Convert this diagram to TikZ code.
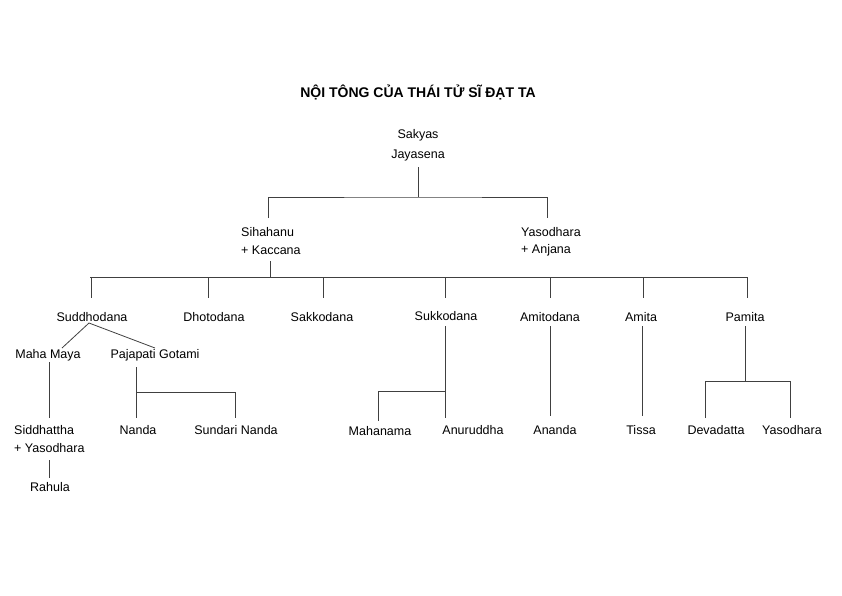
\documentclass[tikz,border=0pt]{standalone}
\usepackage{fontspec}
\setmainfont{Liberation Sans}
\begin{document}
\begin{tikzpicture}[x=1pt,y=-1pt,
  lbl/.style={inner sep=0pt,font=\fontsize{12.5}{15}\selectfont},
  ln/.style={draw=black!75,line width=0.8pt}]
\useasboundingbox (0,0) rectangle (842,595);
\node[inner sep=0pt,font=\bfseries\fontsize{14}{16}\selectfont] (title) at (418,92) {NỘI TÔNG CỦA THÁI TỬ SĨ ĐẠT TA};
\node[lbl] (sak) at (418,135) {Sakyas};
\node[lbl] (jay) at (418,155) {Jayasena};
\node[lbl,anchor=west] (sih) at (241,232) {Sihahanu};
\node[lbl,anchor=west] (kac) at (241,250) {+ Kaccana};
\node[lbl,anchor=west] (yas) at (521,232) {Yasodhara};
\node[lbl,anchor=west] (anj) at (521,250) {+ Anjana};
\node[lbl] (sud) at (92,317) {Suddhodana};
\node[lbl] (dho) at (214,317) {Dhotodana};
\node[lbl] (sakk) at (322,317) {Sakkodana};
\node[lbl] (suk) at (446,316) {Sukkodana};
\node[lbl] (ami) at (550,317) {Amitodana};
\node[lbl] (amt) at (641,317) {Amita};
\node[lbl] (pam) at (745,317) {Pamita};
\node[lbl] (mm) at (48,355) {Maha Maya};
\node[lbl] (pg) at (155,355) {Pajapati Gotami};
\node[lbl,anchor=west] (sid) at (14,430) {Siddhattha};
\node[lbl,anchor=west] (sy) at (14,448) {+ Yasodhara};
\node[lbl] (rah) at (50,487) {Rahula};
\node[lbl] (nan) at (138,430) {Nanda};
\node[lbl] (sun) at (236,430) {Sundari Nanda};
\node[lbl] (mah) at (380,431) {Mahanama};
\node[lbl] (anu) at (473,430) {Anuruddha};
\node[lbl] (ana) at (555,430) {Ananda};
\node[lbl] (tis) at (641,430) {Tissa};
\node[lbl] (dev) at (716,430) {Devadatta};
\node[lbl] (yas2) at (792,430) {Yasodhara};
% level 1
\coordinate (j1) at (418,197);
\draw[ln] (418,167) -- (j1);
\draw[ln] (268,218) |- (j1) -| (547,218);
% level 2
\coordinate (j2) at (270,277);
\draw[ln] (270,261) -- (j2);
\draw[ln] (90,277) -- (747,277);
\foreach \x in {91,208,323,445,550,643,747} \draw[ln] (\x,277) -- (\x,298);
% Suddhodana
\coordinate (sd) at (89,323);
\draw[ln] (62,348) -- (sd) -- (155,348);
\draw[ln] (49,362) -- (49,418);
\draw[ln] (49,460) -- (49,478);
\draw[ln] (136,367) -- (136,418);
\draw[ln] (136,392) -| (235,418);
% Sukkodana
\draw[ln] (445,326) -- (445,418);
\draw[ln] (445,391) -| (378,421);
% Amitodana, Amita
\draw[ln] (550,326) -- (550,416);
\draw[ln] (642,326) -- (642,416);
% Pamita
\draw[ln] (745,326) -- (745,381);
\draw[ln] (705,418) |- (790,381) -- (790,418);
\end{tikzpicture}
\end{document}
